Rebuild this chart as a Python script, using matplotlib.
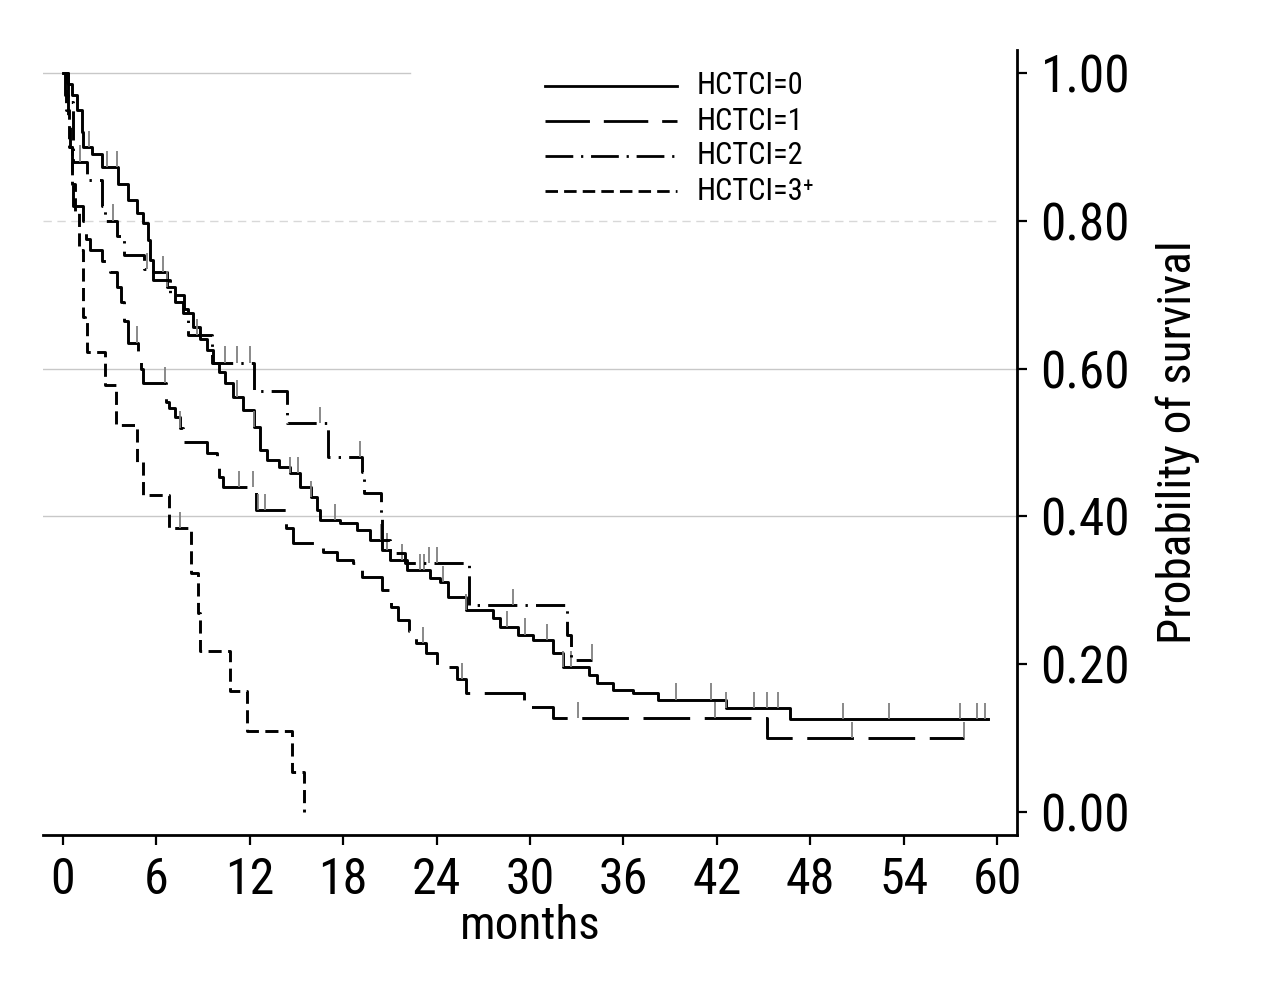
import matplotlib
matplotlib.use("Agg")
import matplotlib.pyplot as plt
import matplotlib.font_manager as fm
from matplotlib.lines import Line2D
import numpy as np

# pick a narrow sans face if one is installed
fonts = [(f.name, str(f.stretch)) for f in fm.fontManager.ttflist]
family, stretch = 'DejaVu Sans', 'normal'
for name, st in [('Liberation Sans Narrow', None), ('Roboto Condensed', None),
                 ('Noto Sans', 'condensed'), ('DejaVu Sans', 'condensed'),
                 ('Open Sans', 'condensed'), ('Noto Sans', 'semi-condensed'),
                 ('DejaVu Sans', 'semi-condensed')]:
    hit = [f for f in fonts if f[0] == name and (st is None or f[1] == st)]
    if hit:
        family, stretch = name, (st or 'normal')
        break
plt.rcParams['font.family'] = [family, 'DejaVu Sans']
plt.rcParams['font.stretch'] = stretch

# Kaplan-Meier steps: time of drop (months) and survival after it
t0 = [0.3, 0.6, 0.9, 1.2, 1.3, 1.85, 2.5, 3.55, 4.2, 4.75, 5.15, 5.45, 5.6, 5.8, 6.7,
      7.2, 7.7, 8.35, 8.8, 9.25, 9.65, 10.0, 10.4, 10.9, 11.55, 12.3, 12.65, 13.1, 13.9, 14.6,
      15.2, 15.9, 16.3, 16.5, 17.8, 18.9, 19.7, 20.5, 21.0, 22.1, 23.6, 24.2, 24.7, 25.9, 27.6,
      28.1, 29.2, 30.2, 31.5, 32.1, 33.8, 34.3, 35.3, 36.6, 38.2, 42.6, 46.7]
s0 = [0.985, 0.97, 0.95, 0.92, 0.90, 0.89, 0.873, 0.85, 0.828, 0.81, 0.797, 0.774, 0.747, 0.73, 0.71,
      0.69, 0.675, 0.656, 0.64, 0.625, 0.608, 0.595, 0.58, 0.562, 0.544, 0.521, 0.49, 0.476, 0.467, 0.459,
      0.44, 0.426, 0.409, 0.395, 0.391, 0.382, 0.368, 0.355, 0.341, 0.327, 0.317, 0.311, 0.291, 0.273, 0.262,
      0.250, 0.24, 0.233, 0.215, 0.196, 0.185, 0.175, 0.165, 0.161, 0.152, 0.141, 0.126]
end0 = 59.4
cens0 = [1.7, 2.8, 3.5, 6.4, 6.7, 11.2, 12.3, 14.6, 15.1, 15.9, 17.5, 20.4, 20.8, 21.8, 22.9,
         23.2, 24.4, 25.9, 28.5, 29.7, 31.1, 32.1, 32.6, 39.4, 41.6, 42.6, 44.4, 45.2, 45.9,
         50.1, 53.05, 57.6, 58.7, 59.2]

t1 = [0.15, 0.3, 0.45, 0.55, 0.65, 1.3, 1.5, 1.75, 2.5, 3.0, 3.5, 3.7, 3.9, 4.2, 4.8,
      5.0, 5.15, 6.6, 6.8, 7.2, 7.5, 7.7, 9.25, 9.9, 10.0, 10.3, 12.4, 14.3, 14.8, 16.7,
      17.6, 18.6, 19.2, 20.5, 21.1, 21.5, 22.2, 22.7, 23.3, 24.0, 25.3, 25.9, 29.6, 31.5, 45.2]
s1 = [0.97, 0.94, 0.90, 0.86, 0.82, 0.80, 0.775, 0.76, 0.745, 0.73, 0.71, 0.69, 0.665, 0.635, 0.62,
      0.60, 0.58, 0.555, 0.547, 0.534, 0.52, 0.50, 0.486, 0.472, 0.453, 0.44, 0.408, 0.384, 0.364, 0.352,
      0.341, 0.337, 0.318, 0.30, 0.277, 0.26, 0.245, 0.229, 0.215, 0.196, 0.18, 0.161, 0.142, 0.127, 0.100]
end1 = 57.9
cens1 = [4.75, 6.55, 7.5, 11.3, 12.2, 12.5, 13.0, 23.1, 25.6, 33.1, 41.9, 50.7, 57.9]

t2 = [0.3, 0.65, 1.55, 2.5, 2.7, 3.5, 3.9, 5.2, 5.8, 6.9, 7.8, 8.0, 9.6, 12.3, 14.4,
      17.0, 19.2, 19.35, 20.4, 20.5, 21.0, 22.0, 26.1, 32.4, 32.6]
s2 = [0.96, 0.88, 0.855, 0.82, 0.80, 0.78, 0.753, 0.735, 0.72, 0.70, 0.68, 0.645, 0.608, 0.57, 0.526,
      0.48, 0.46, 0.432, 0.40, 0.368, 0.35, 0.337, 0.28, 0.24, 0.206]
end2 = 34.0
cens2 = [1.1, 3.2, 5.4, 8.6, 10.4, 11.2, 12.0, 16.5, 19.1, 23.5, 24.0, 28.9, 34.0]

t3 = [0.2, 0.4, 0.6, 0.8, 1.0, 1.28, 1.4, 1.55, 2.7, 3.4, 4.75, 5.15, 6.8, 8.2, 8.7,
      8.8, 10.7, 11.8, 14.7, 15.5]
s3 = [0.95, 0.90, 0.85, 0.81, 0.76, 0.67, 0.663, 0.622, 0.578, 0.524, 0.474, 0.429, 0.384, 0.323, 0.269,
      0.218, 0.164, 0.110, 0.054, 0.0]
end3 = 15.5
cens3 = [7.5]

labels = ['HCTCI=0', 'HCTCI=1', 'HCTCI=2', 'HCTCI=3\u207a']
styles = ['-', (0, (16, 5)), (0, (10, 2.8, 0.8, 2.8)), (0, (4.5, 2.2))]
xticks = [0, 6, 12, 18, 24, 30, 36, 42, 48, 54, 60]
yticks = [0.0, 0.2, 0.4, 0.6, 0.8, 1.0]
grid_levels = [0.4, 0.6, 0.8, 1.0]

series = [(t0, s0, end0, cens0), (t1, s1, end1, cens1),
          (t2, s2, end2, cens2), (t3, s3, end3, cens3)]

fig = plt.figure(figsize=(12.8, 9.92), dpi=100)
ax = fig.add_axes([0.0336, 0.1583, 0.7609, 0.7913])

# grid lines (partly drawn, as in the original)
ax.axhline(grid_levels[0], color='#c8c8c8', lw=1.0, zorder=0)
ax.axhline(grid_levels[1], color='#c8c8c8', lw=1.0, zorder=0)
ax.axhline(grid_levels[2], xmax=0.98, color='#d8d8d8', lw=1.0, ls=(0, (6, 4)), zorder=0)
ax.axhline(grid_levels[3], xmax=0.377, color='#c8c8c8', lw=1.0, zorder=0)

for (t, s, end, cens), ls in zip(series, styles):
    x = [0] + t + [end]
    y = [1.0] + s + [s[-1]]
    ax.plot(x, y, drawstyle='steps-post', color='black', lw=2.1, ls=ls)
    # censoring marks
    idx = np.searchsorted(t, cens, side='right')
    lev = np.array([1.0] + s)[idx]
    ax.vlines(cens, lev, lev + 0.022, color='#808080', lw=1.3)

ax.set_xlim(-1.28, 61.27)
ax.set_ylim(-0.031, 1.031)

for side in ['top', 'left']:
    ax.spines[side].set_visible(False)
ax.spines['bottom'].set_linewidth(2.0)
ax.spines['right'].set_linewidth(2.0)

ax.yaxis.tick_right()
ax.yaxis.set_label_position('right')
ax.set_xticks(xticks)
ax.set_xticklabels([str(v) for v in xticks])
ax.set_yticks(yticks)
ax.set_yticklabels(['%.2f' % v for v in yticks])
ax.tick_params(axis='x', direction='out', length=7, width=1.6, labelsize=36, pad=8)
ax.tick_params(axis='y', direction='out', length=7, width=1.6, labelsize=37, pad=10)

ax.set_xlabel('months', fontsize=34, labelpad=0)
ax.set_ylabel('Probability of survival', fontsize=34, labelpad=18)

# legend drawn by hand to match its tight row spacing
rows = [86, 121, 156, 191]
for lab, ls, r in zip(labels, styles, rows):
    yy = 1 - r / 992
    fig.add_artist(Line2D([545 / 1280, 677 / 1280], [yy, yy], transform=fig.transFigure,
                          color='black', lw=2.0, ls=ls))
    fig.text(697 / 1280, yy, lab, fontsize=22, va='center', ha='left')

fig.savefig('out.png', dpi=100)
